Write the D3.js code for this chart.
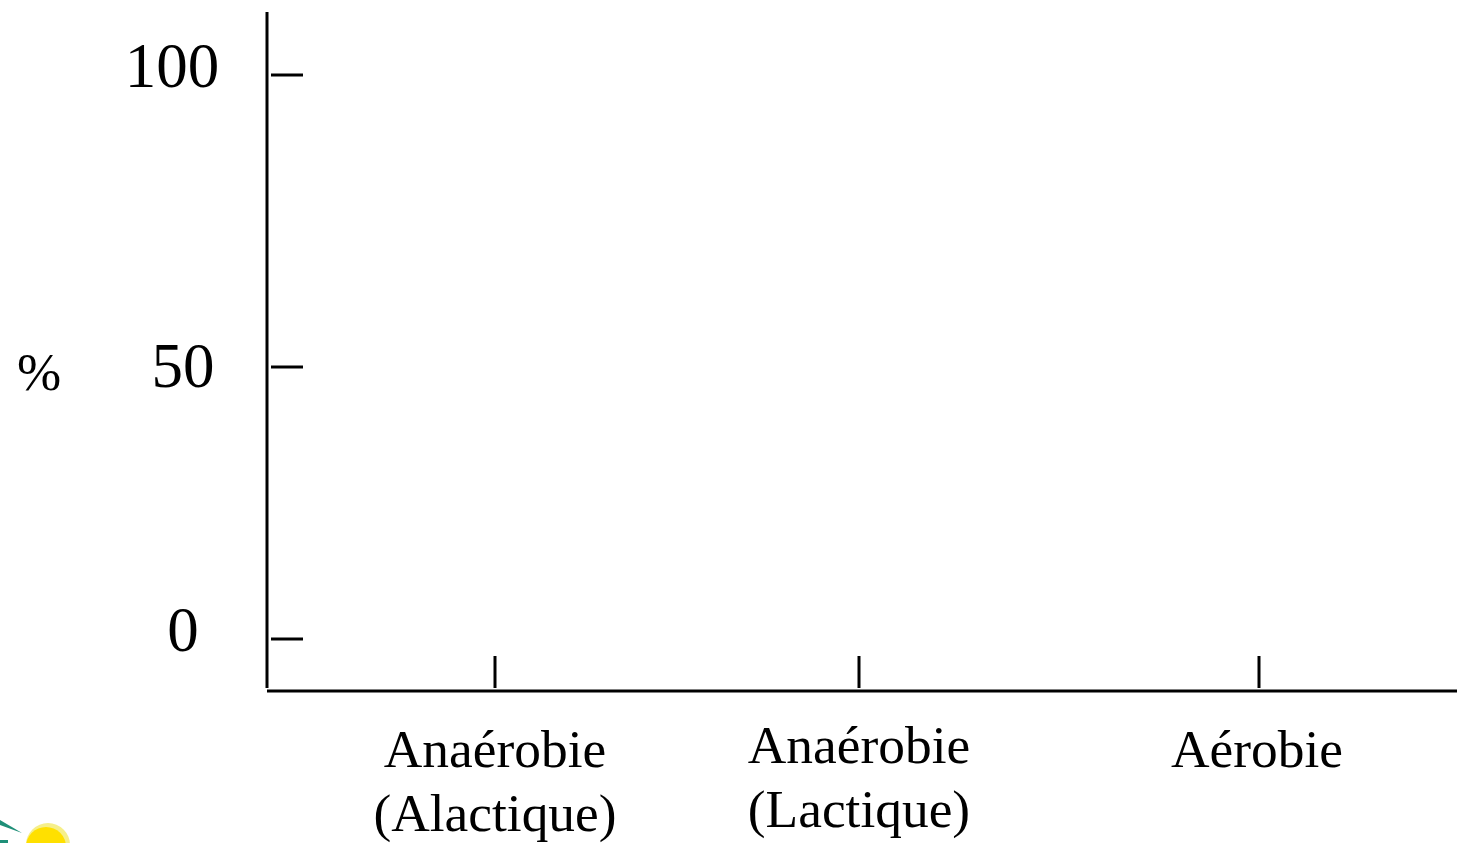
<!DOCTYPE html>
<html>
<head>
<meta charset="utf-8">
<script src="https://cdn.jsdelivr.net/npm/d3@7"></script>
<style>
  html, body { margin: 0; padding: 0; background: #fff; overflow: hidden; }
  text { font-family: "Liberation Serif", serif; fill: #000; }
</style>
</head>
<body>
<div id="chart"></div>
<script>
// values
const yTicks = [0, 50, 100];
const yUnit = "%";
const categories = ["Anaérobie (Alactique)", "Anaérobie (Lactique)", "Aérobie"];
const categoryLines = [["Anaérobie", "(Alactique)"], ["Anaérobie", "(Lactique)"], ["Aérobie"]];

const width = 1457, height = 843;

const svg = d3.select("#chart").append("svg")
  .attr("width", width)
  .attr("height", height)
  .style("display", "block");

// the source axes are hand drawn, so neither spacing is even
const y = d3.scaleLinear().domain(yTicks).range([639, 367, 75]);
const x = d3.scaleOrdinal().domain(categories).range([495, 859, 1259]);

// y axis line
svg.append("line")
  .attr("x1", 267).attr("x2", 267)
  .attr("y1", 12).attr("y2", 688)
  .attr("stroke", "#000").attr("stroke-width", 3);

// x axis line
svg.append("line")
  .attr("x1", 267).attr("x2", width)
  .attr("y1", 691).attr("y2", 691)
  .attr("stroke", "#000").attr("stroke-width", 3);

// y ticks
svg.selectAll(".y-tick")
  .data(yTicks)
  .join("line")
  .attr("class", "y-tick")
  .attr("x1", 271).attr("x2", 303)
  .attr("y1", (d) => y(d)).attr("y2", (d) => y(d))
  .attr("stroke", "#000").attr("stroke-width", 3);

// y labels, 100 sits further left than the others
svg.selectAll(".y-label")
  .data(yTicks)
  .join("text")
  .attr("class", "y-label")
  .attr("x", (d) => (d === 100 ? 172 : 183))
  .attr("y", (d) => (d === 100 ? 87 : d === 50 ? 387 : 651))
  .attr("text-anchor", "middle")
  .attr("font-size", 63)
  .text((d) => d);

svg.append("text")
  .attr("x", 39)
  .attr("y", 390)
  .attr("text-anchor", "middle")
  .attr("font-size", 53)
  .text(yUnit);

// x ticks
svg.selectAll(".x-tick")
  .data(categories)
  .join("line")
  .attr("class", "x-tick")
  .attr("x1", (d) => x(d)).attr("x2", (d) => x(d))
  .attr("y1", 656).attr("y2", 688)
  .attr("stroke", "#000").attr("stroke-width", 3);

// x labels, the middle one sits a little higher
const labels = svg.selectAll(".x-label")
  .data(categories)
  .join("text")
  .attr("class", "x-label")
  .attr("text-anchor", "middle")
  .attr("font-size", 53.4);

labels.selectAll("tspan")
  .data((d, i) => categoryLines[i].map((line) => ({ line, cat: d, i })))
  .join("tspan")
  .attr("x", (d) => (d.i === 2 ? x(d.cat) - 2 : x(d.cat)))
  .attr("y", (d, j) => (d.i === 1 ? 763 : 767) + j * 64)
  .text((d) => d.line);

// corner of the logo, cut off by the page edge
const logo = svg.append("g");
logo.append("circle")
  .attr("cx", 48).attr("cy", 845).attr("r", 22)
  .attr("fill", "#f6ef8a");
logo.append("circle")
  .attr("cx", 46).attr("cy", 847).attr("r", 20)
  .attr("fill", "#ffe000");
logo.append("path")
  .attr("d", "M0,820 L22,833 L0,825 Z")
  .attr("fill", "#1f8f78");
logo.append("rect")
  .attr("x", 0).attr("y", 840).attr("width", 8).attr("height", 3)
  .attr("fill", "#1f8f78");
</script>
</body>
</html>
